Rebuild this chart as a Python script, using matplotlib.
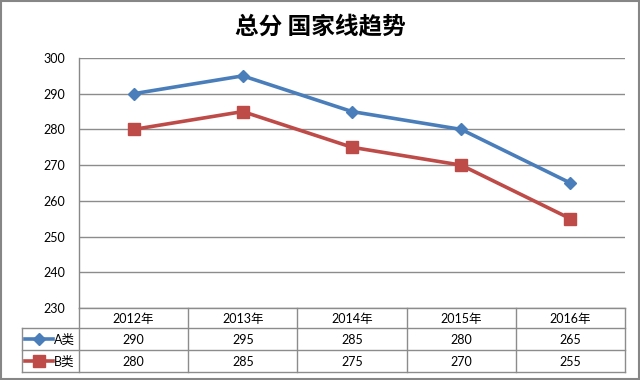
import matplotlib
matplotlib.use("Agg")
import matplotlib.pyplot as plt
from matplotlib.lines import Line2D
from matplotlib.patches import Rectangle

plt.rcParams['font.family'] = ['Lato', 'Noto Sans CJK SC', 'DejaVu Sans']

title = "总分 国家线趋势"
years = ["2012年", "2013年", "2014年", "2015年", "2016年"]
series_names = ["A类", "B类"]
a_vals = [290, 295, 285, 280, 265]
b_vals = [280, 285, 275, 270, 255]
yticks = [230, 240, 250, 260, 270, 280, 290, 300]

colors = ["#4A7EBB", "#BE4B48"]
markers = ["D", "s"]
msizes = [6, 8]
series = [a_vals, b_vals]

W, H = 640, 380
fig = plt.figure(figsize=(W / 100, H / 100), dpi=100)

# plot area in pixels
L, R, T, B = 79, 625, 58, 308
ax = fig.add_axes([L / W, 1 - B / H, (R - L) / W, (B - T) / H])
n = len(years)
x = list(range(n))
for vals, c, m, ms in zip(series, colors, markers, msizes):
    ax.plot(x, vals, color=c, lw=2.6, marker=m, ms=ms, mec=c, mfc=c, zorder=3)
ax.set_xlim(-0.5, n - 0.5)
ax.set_ylim(230, 300)
ax.set_yticks(yticks)
ax.set_xticks([])
for s in ["top", "right", "bottom"]:
    ax.spines[s].set_visible(False)
ax.spines["left"].set_color("#888888")
ax.spines["left"].set_linewidth(1)
ax.yaxis.grid(True, color="#8c8c8c", lw=1)
ax.set_axisbelow(True)
ax.tick_params(axis="y", length=0, pad=10, labelsize=9, colors="#000000")

# overlay in pixel coordinates for title, data table and border
ov = fig.add_axes([0, 0, 1, 1])
ov.set_xlim(0, W)
ov.set_ylim(H, 0)
ov.axis("off")
ov.patch.set_alpha(0)

ov.text(320, 26, title, ha="center", va="center", fontsize=17, fontweight="bold",
        family=['Noto Sans CJK SC', 'DejaVu Sans'])

ov.add_patch(Rectangle((0.8, 0.8), W - 1.8, H - 1.8, fill=False, ec="#868686", lw=1.5))

gc = "#8c8c8c"
row_y = [308, 328, 350, 372]
col_w = (R - L) / n
col_x = [L + i * col_w for i in range(n + 1)]
TL = 22
# horizontal lines
ov.add_line(Line2D([L, R], [row_y[0], row_y[0]], color=gc, lw=1))
for yy in row_y[1:]:
    ov.add_line(Line2D([TL, R], [yy, yy], color=gc, lw=1))
# vertical lines
for xx in col_x:
    ov.add_line(Line2D([xx, xx], [row_y[0], row_y[-1]], color=gc, lw=1))
ov.add_line(Line2D([TL, TL], [row_y[1], row_y[-1]], color=gc, lw=1))

for i, yr in enumerate(years):
    cx = (col_x[i] + col_x[i + 1]) / 2
    ov.text(cx, (row_y[0] + row_y[1]) / 2 + 0.5, yr, ha="center", va="center", fontsize=9)
for r, (name, vals, c, m, ms) in enumerate(zip(series_names, series, colors, markers, msizes)):
    cy = (row_y[r + 1] + row_y[r + 2]) / 2
    ov.add_line(Line2D([25, 53], [cy, cy], color=c, lw=2.6))
    ov.add_line(Line2D([39], [cy], color=c, marker=m, ms=ms, mec=c, mfc=c))
    ov.text(54, cy + 0.5, name, ha="left", va="center", fontsize=9)
    for i, v in enumerate(vals):
        cx = (col_x[i] + col_x[i + 1]) / 2
        ov.text(cx, cy + 0.5, str(v), ha="center", va="center", fontsize=9)

fig.savefig("out.png", dpi=100)
